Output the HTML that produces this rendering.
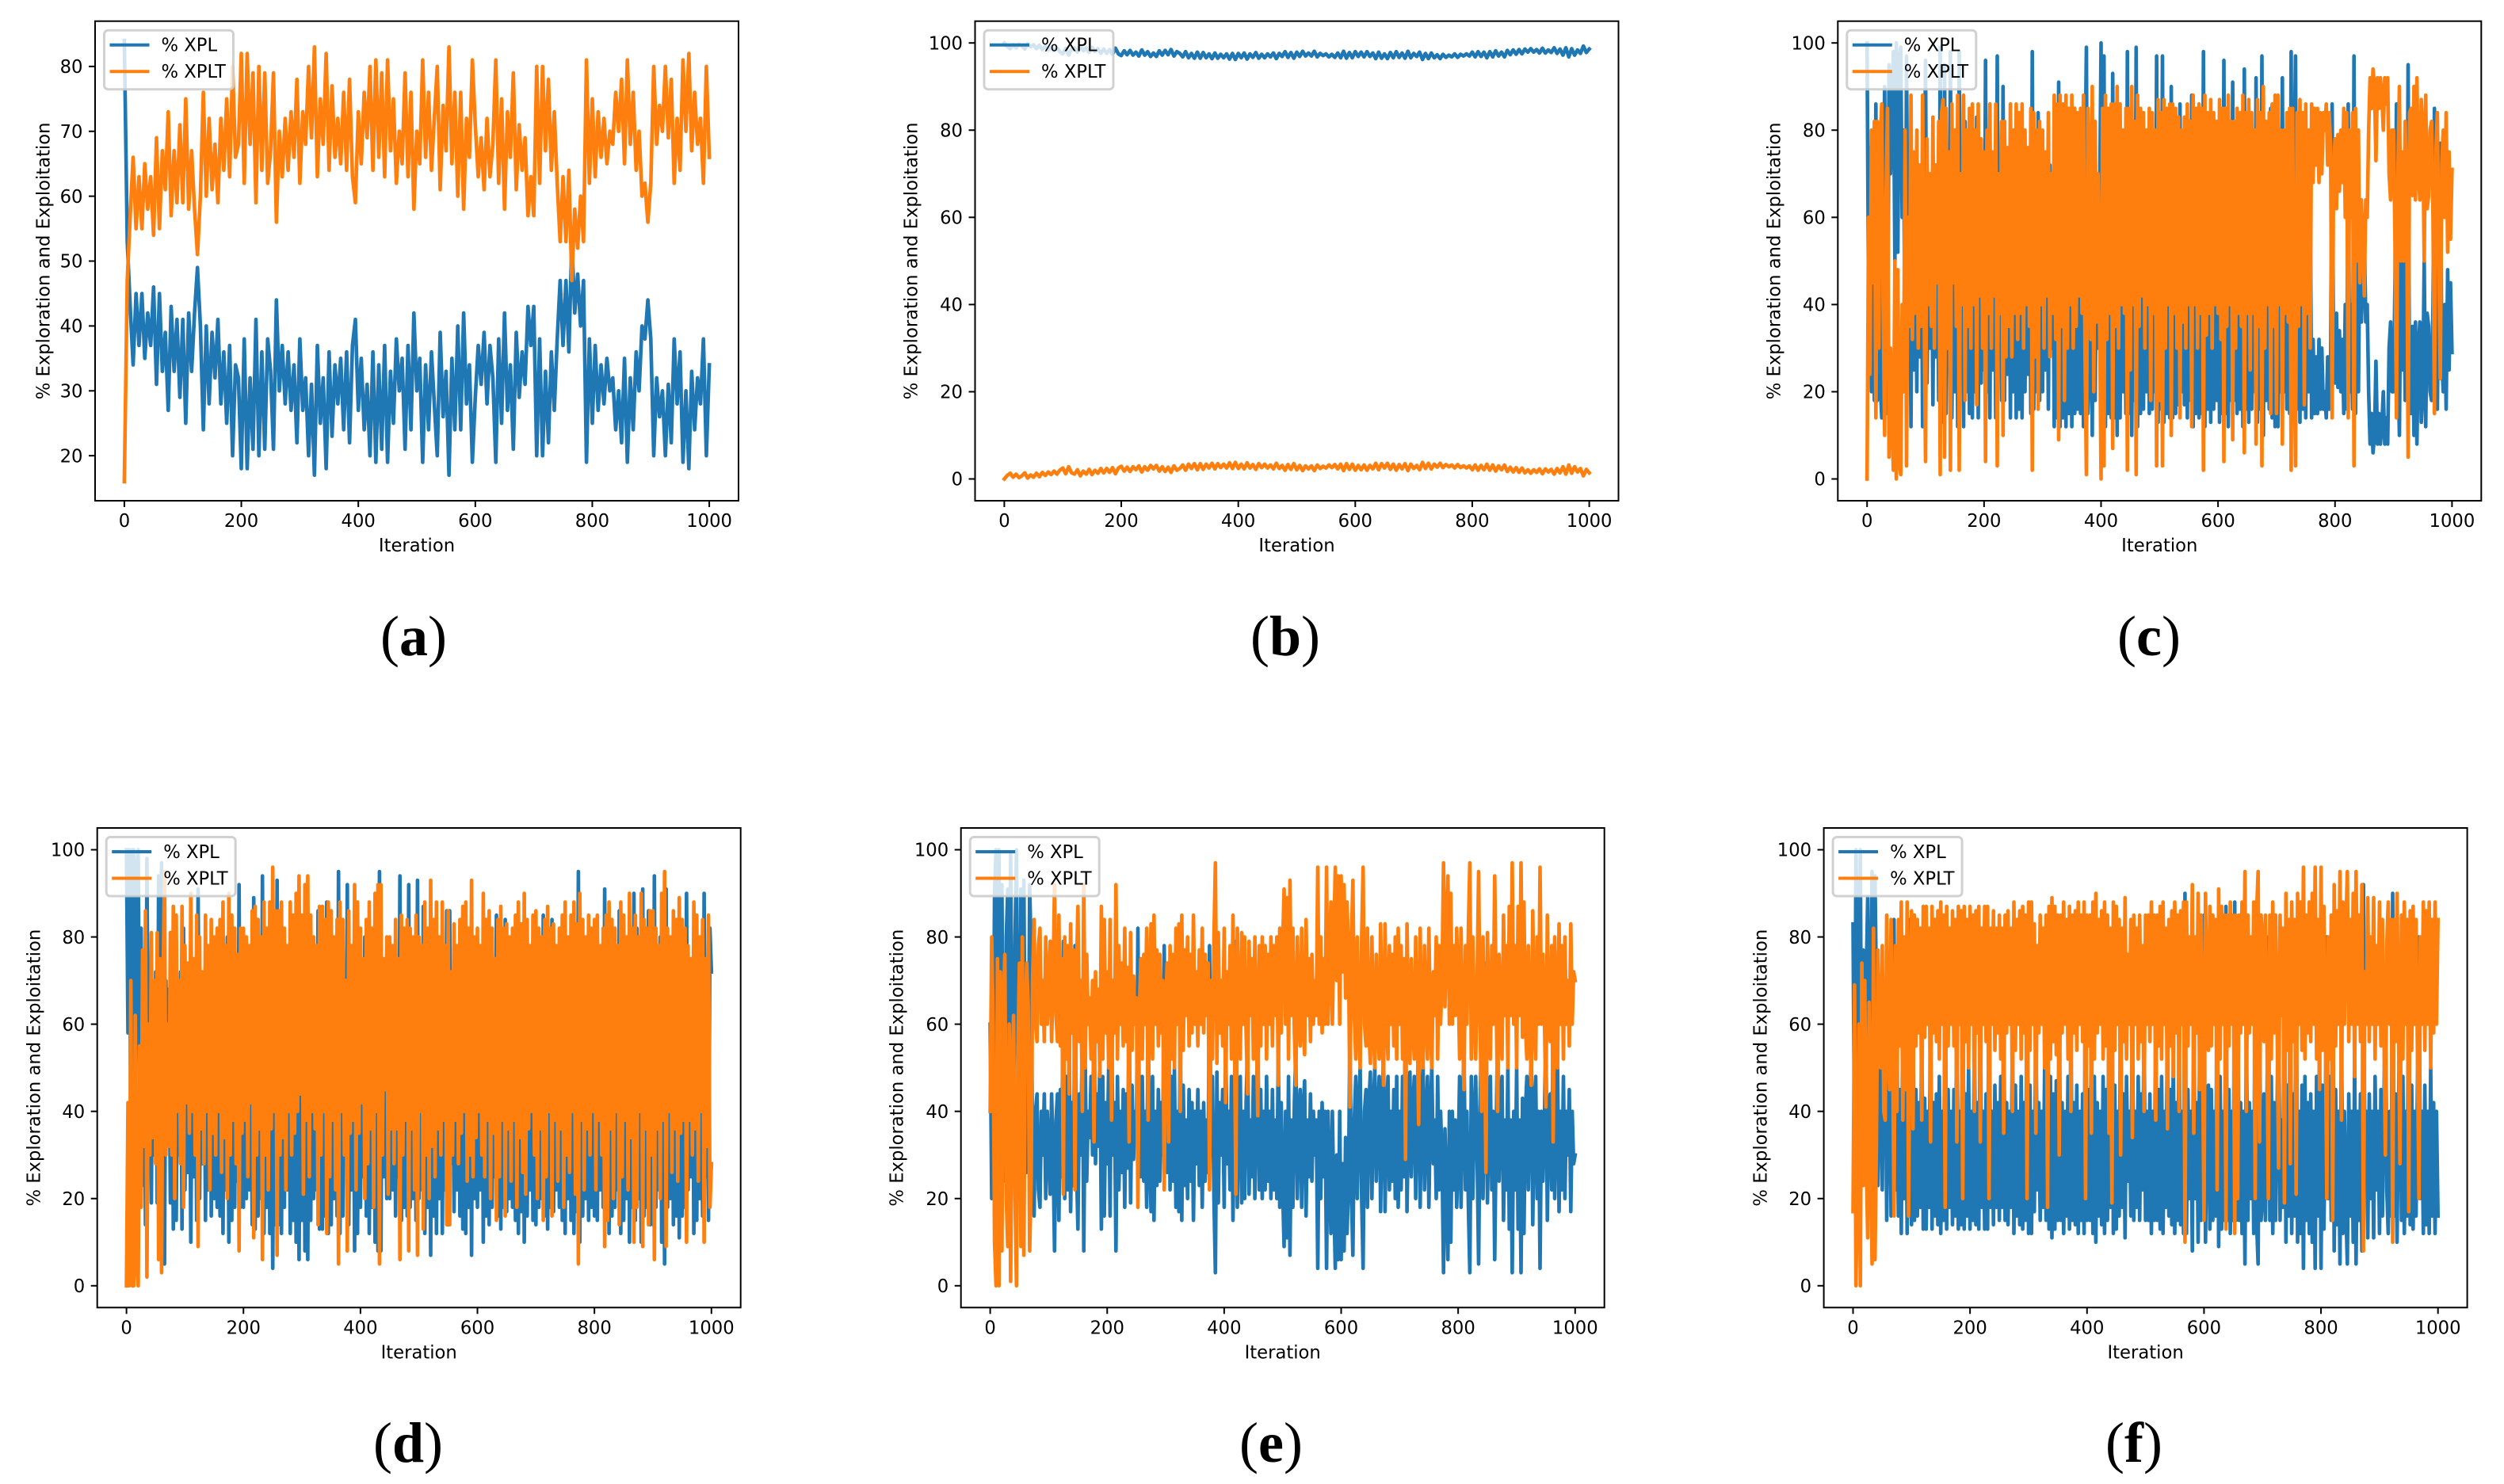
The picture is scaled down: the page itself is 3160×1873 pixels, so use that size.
<!DOCTYPE html>
<html lang="en">
<head>
<meta charset="utf-8">
<title>Exploration and Exploitation Panels</title>
<style>
html,body{margin:0;padding:0;background:#fff;}
svg{display:block;}
text{font-family:"DejaVu Sans","Liberation Sans",sans-serif;fill:#000;}
.caption{font-family:"Liberation Serif",serif;}
</style>
</head>
<body>
<svg id="figure" xmlns="http://www.w3.org/2000/svg" width="3160" height="1873" viewBox="0 0 3160 1873"></svg>
<script>
const xTickValues=[0,200,400,600,800,1000];
const yTickValuesA=[20,30,40,50,60,70,80];
const yTickValuesFull=[0,20,40,60,80,100];
const seriesLabels=["% XPL","% XPLT"];

const panelAXpl=[84,53,43,34,45,37,45,35,42,37,46,31,45,33,39,27,43,33,41,29,
41,25,42,33,42,49,40,24,40,28,39,32,41,28,36,25,37,20,34,32,
18,38,18,32,21,41,20,36,21,38,33,21,44,30,37,28,36,27,34,22,
38,27,32,20,31,17,37,25,32,18,36,23,34,28,35,24,36,22,37,41,
27,35,24,31,20,36,19,34,21,37,19,33,25,38,30,35,21,37,24,42,
30,35,19,34,24,36,28,20,39,26,33,17,35,24,40,24,42,28,34,19,
29,37,31,39,28,37,32,19,38,25,42,27,34,21,39,29,36,31,43,37,
43,20,38,20,33,22,36,27,38,47,37,47,36,53,42,48,40,47,19,38,
25,37,27,34,28,35,30,32,24,30,22,35,19,32,24,36,30,40,38,44,
38,20,32,26,30,20,31,22,38,28,36,19,30,18,33,24,32,28,38,20,34];
const panelAXplt=[16,47,57,66,55,63,55,65,58,63,54,69,55,67,61,73,57,67,59,71,
59,75,58,67,58,51,60,76,60,72,61,68,59,72,64,75,63,80,66,68,
82,62,82,68,79,59,80,64,79,62,67,79,56,70,63,72,64,73,66,78,
62,73,68,80,69,83,63,75,68,82,64,77,66,72,65,76,64,78,63,59,
73,65,76,69,80,64,81,66,79,63,81,67,75,62,70,65,79,63,76,58,
70,65,81,66,76,64,72,80,61,74,67,83,65,76,60,76,58,72,66,81,
71,63,69,61,72,63,68,81,62,75,58,73,66,79,61,71,64,69,57,63,
57,80,62,80,67,78,64,73,62,53,63,53,64,47,58,52,60,53,81,62,
75,63,73,66,72,65,70,68,76,70,78,65,81,68,76,64,70,60,62,56,
62,80,68,74,70,80,69,78,62,72,64,81,70,82,67,76,68,72,62,80,66];

const panelBXpl=[100,99.2,98.7,99.6,98.9,99.7,99.3,98.6,99.8,99.1,99.6,98.7,99.5,98.5,99.2,98.4,99.0,98.2,98.9,98.0,
97.5,98.8,97.2,98.6,98.9,97.9,99.3,98.2,98.9,97.8,99.0,98.0,98.7,97.6,98.6,97.6,98.5,97.4,98.8,97.5,
97.1,98.2,97.3,98.3,97.2,97.9,97.0,98.4,97.2,98.0,96.9,97.7,96.9,98.2,97.2,98.3,97.3,98.5,97.0,98.0,
97.6,96.8,98.0,96.6,97.6,96.5,97.9,96.5,97.8,96.6,97.5,96.4,97.7,96.5,97.4,96.6,97.5,96.3,97.6,96.2,
97.6,96.6,97.7,96.3,97.5,96.7,97.8,96.5,97.4,96.6,97.5,96.8,97.7,96.4,97.6,96.9,98.0,96.7,97.8,96.5,
97.9,96.9,98.1,97.0,97.7,97.0,98.1,96.8,97.6,97.1,97.5,96.8,97.4,96.7,97.7,96.6,98.1,96.5,97.8,96.6,
98.0,96.9,97.9,96.8,98.0,96.9,97.7,96.4,97.9,96.5,97.5,96.4,97.8,96.6,98.0,96.7,97.7,96.5,98.1,96.6,
97.6,96.9,97.9,96.2,97.6,96.4,97.7,96.6,97.3,96.4,97.4,96.7,97.2,96.8,97.5,96.7,97.4,97.0,97.5,97.0,
97.9,96.8,98.0,96.9,97.9,96.6,98.0,96.8,98.2,97.0,97.9,96.8,98.3,97.3,98.4,97.4,98.5,97.5,98.6,97.9,
98.7,97.9,98.5,97.7,98.8,97.7,98.4,97.8,98.9,97.6,98.6,97.2,98.9,96.8,98.7,97.2,98.4,97.6,99.3,97.8,98.6];
const panelBXplt=[0,0.8,1.3,0.4,1.1,0.3,0.7,1.4,0.2,0.9,0.4,1.3,0.5,1.5,0.8,1.6,1.0,1.8,1.1,2.0,
2.5,1.2,2.8,1.4,1.1,2.1,0.7,1.8,1.1,2.2,1.0,2.0,1.3,2.4,1.4,2.4,1.5,2.6,1.2,2.5,
2.9,1.8,2.7,1.7,2.8,2.1,3.0,1.6,2.8,2.0,3.1,2.3,3.1,1.8,2.8,1.7,2.7,1.5,3.0,2.0,
2.4,3.2,2.0,3.4,2.4,3.5,2.1,3.5,2.2,3.4,2.5,3.6,2.3,3.5,2.6,3.4,2.5,3.7,2.4,3.8,
2.4,3.4,2.3,3.7,2.5,3.3,2.2,3.5,2.6,3.4,2.5,3.2,2.3,3.6,2.4,3.1,2.0,3.3,2.2,3.5,
2.1,3.1,1.9,3.0,2.3,3.0,1.9,3.2,2.4,2.9,2.5,3.2,2.6,3.3,2.3,3.4,1.9,3.5,2.2,3.4,
2.0,3.1,2.1,3.2,2.0,3.1,2.3,3.6,2.1,3.5,2.5,3.6,2.2,3.4,2.0,3.3,2.3,3.5,1.9,3.4,
2.4,3.1,2.1,3.8,2.4,3.6,2.3,3.4,2.7,3.6,2.6,3.3,2.8,3.2,2.5,3.3,2.6,3.0,2.5,3.0,
2.1,3.2,2.0,3.1,2.1,3.4,2.0,3.2,1.8,3.0,2.1,3.2,1.7,2.7,1.6,2.6,1.5,2.5,1.4,2.1,
1.3,2.1,1.5,2.3,1.2,2.3,1.6,2.2,1.1,2.4,1.4,2.8,1.1,3.2,1.3,2.8,1.6,2.4,0.7,2.2,1.4];

const panelCXpl=[100,40,76,20,55,18,86,18,70,22,14,60,90,35,15,95,70,86,98,50,100,52,96,99,60,80,20,97,40,65,12,68,25,62,20,70,28,65,12,60,
96,22,60,30,65,17,70,28,55,18,99,16,13,95,15,70,25,98,14,55,20,65,12,98,30,60,12,82,20,65,15,70,14,60,20,83,14,58,22,70,
25,96,20,62,14,70,25,58,14,97,30,62,18,90,18,72,24,65,14,72,20,62,14,68,16,62,14,70,20,60,24,65,15,98,16,72,20,84,18,60,
20,70,25,58,16,72,30,62,12,68,14,91,12,65,14,82,12,70,15,60,12,70,15,65,16,58,15,62,12,70,99,15,25,68,10,80,18,64,30,60,
100,15,97,12,68,15,62,14,93,14,65,10,70,14,60,20,62,15,98,15,75,10,60,18,99,12,65,15,58,16,70,20,60,15,82,16,62,20,97,13,
82,16,97,13,70,15,60,14,90,14,62,15,70,17,86,20,64,17,70,14,60,18,88,12,60,15,70,14,62,15,98,12,67,16,62,13,70,16,60,18,
62,13,68,15,96,15,65,12,60,18,91,18,70,15,62,16,65,12,94,16,62,13,75,16,62,20,92,13,65,16,97,10,70,18,60,16,85,14,65,12,
85,12,60,20,92,20,62,16,64,15,98,15,70,97,16,65,13,60,16,83,14,62,20,70,14,32,15,28,15,32,16,30,16,20,14,28,16,24,86,30,
22,38,21,34,20,32,15,40,16,86,20,40,16,97,15,50,20,55,36,45,58,36,40,20,8,15,6,10,27,8,15,8,12,20,8,14,8,30,36,20,
20,45,86,30,10,50,25,50,18,35,95,16,15,35,10,36,8,30,36,13,20,50,12,38,35,20,18,40,85,25,16,50,77,28,20,40,16,48,25,45,29];
const panelCXplt=[0,60,24,80,45,82,14,82,30,78,86,40,10,65,85,5,30,14,2,50,0,48,4,1,40,20,80,3,60,35,88,32,75,38,80,30,72,35,88,40,
4,78,40,70,35,83,30,72,45,82,1,84,87,5,85,30,75,2,86,45,80,35,88,2,70,40,88,18,80,35,85,30,86,40,80,17,86,42,78,30,
75,4,80,38,86,30,75,42,86,3,70,38,82,10,82,28,76,35,86,28,80,38,86,32,84,38,86,30,80,40,76,35,85,2,84,28,80,16,82,40,
80,30,75,42,84,28,70,38,88,32,86,9,88,35,86,18,88,30,85,40,88,30,85,35,84,42,85,38,88,30,1,85,75,32,90,20,82,36,70,40,
0,85,3,88,32,85,38,86,7,86,35,90,30,86,40,80,38,85,2,85,25,90,40,82,1,88,35,85,42,84,30,80,40,85,18,84,38,80,3,87,
18,84,3,87,30,85,40,86,10,86,38,85,30,83,14,80,36,83,30,86,40,82,12,88,40,85,30,86,38,85,2,88,33,84,38,87,30,84,40,82,
38,87,32,85,4,85,35,88,40,82,9,82,30,85,38,84,35,88,6,84,38,87,25,84,38,80,8,87,35,84,3,90,30,82,40,84,15,86,35,88,
15,88,40,80,8,80,38,84,36,85,2,85,30,3,84,35,87,40,84,17,86,38,80,30,86,68,85,72,85,68,84,70,84,80,86,72,84,76,14,70,
78,62,79,66,80,68,85,60,84,14,80,60,84,3,85,50,80,45,64,55,42,64,60,80,92,85,94,90,73,92,85,92,88,80,92,86,92,70,64,80,
80,55,14,70,90,50,75,50,82,65,5,84,85,65,90,64,92,70,64,87,80,50,88,62,65,80,82,60,15,75,84,50,23,72,80,60,84,52,75,55,71];

const panelDXpl=[100,58,100,30,100,100,38,95,100,45,82,23,68,14,98,40,70,19,66,30,72,19,94,25,97,32,5,70,40,68,19,70,13,80,15,60,30,72,13,82,
22,58,26,65,10,60,25,70,15,91,20,64,28,72,15,60,22,78,16,65,20,70,18,60,16,74,12,66,22,80,10,70,15,62,18,72,24,92,18,65,
18,62,20,75,22,58,14,89,13,70,16,64,20,94,12,70,18,78,12,64,4,60,14,93,14,70,12,66,18,78,22,60,12,70,15,65,10,60,6,56,
15,79,8,62,6,75,15,60,20,64,22,86,13,70,13,60,16,88,12,75,14,62,20,78,16,95,12,60,16,70,30,92,14,65,22,62,8,78,12,65,
18,58,25,80,16,72,12,64,18,82,10,60,8,95,8,70,25,55,20,79,20,64,22,72,16,64,25,94,15,70,18,62,16,92,18,64,20,78,15,93,
20,60,22,87,12,70,18,80,7,68,16,75,12,64,20,70,12,62,22,86,14,86,28,70,17,62,22,72,16,65,13,60,12,76,18,70,7,75,20,66,
18,60,22,70,10,75,16,62,14,80,18,65,25,85,16,75,13,62,18,84,17,64,20,76,18,62,15,82,12,66,17,74,10,79,16,64,22,60,15,70,
14,80,18,64,20,85,16,75,13,60,18,84,17,62,22,76,18,64,15,82,12,70,20,74,15,60,12,79,17,95,10,62,16,78,20,64,15,70,18,60,
16,78,15,62,22,70,18,91,15,85,12,64,16,80,18,60,22,86,12,75,15,62,20,78,10,66,18,90,15,82,20,60,10,91,16,64,18,86,14,70,
14,94,18,64,22,80,10,62,5,91,18,60,20,74,14,64,16,76,11,65,16,62,18,90,22,62,25,70,12,64,15,76,20,60,16,90,25,68,15,82,72];
const panelDXplt=[0,42,0,70,0,0,62,5,0,55,18,77,32,86,2,60,30,81,34,70,28,81,6,75,3,68,95,30,60,32,81,30,87,20,85,40,70,28,87,18,
78,42,74,35,90,40,75,30,85,9,80,36,72,28,85,40,78,22,84,35,80,30,82,40,84,26,88,34,78,20,90,30,85,38,82,28,76,8,82,35,
82,38,80,25,78,42,86,11,87,30,84,36,80,6,88,30,82,22,88,36,96,40,86,7,86,30,88,34,82,22,78,40,88,30,85,35,90,40,94,44,
85,21,92,38,94,25,85,40,80,36,78,14,87,30,87,40,84,12,88,25,86,38,80,22,84,5,88,40,84,30,70,8,86,35,78,38,92,22,88,35,
82,42,75,20,84,28,88,36,82,18,90,40,92,5,92,30,75,45,80,21,80,36,78,28,84,36,75,6,85,30,82,38,84,8,82,36,80,22,85,7,
80,40,78,13,88,30,82,20,93,32,84,25,88,36,80,30,88,38,78,14,86,14,72,30,83,38,78,28,84,35,87,40,88,24,82,30,93,25,80,34,
82,40,78,30,90,25,84,38,86,20,82,35,75,15,84,25,87,38,82,16,83,36,80,24,82,38,85,18,88,34,83,26,90,21,84,36,78,40,85,30,
86,20,82,36,80,15,84,25,87,40,82,16,83,38,78,24,82,36,85,18,88,30,80,26,85,40,88,21,83,5,90,38,84,22,80,36,85,30,82,40,
84,22,85,38,78,30,82,9,85,15,88,36,84,20,82,40,78,14,88,25,85,38,80,22,90,34,82,10,85,18,80,40,90,9,84,36,82,14,86,30,
86,6,82,36,78,20,90,38,95,9,82,40,80,26,86,36,84,24,89,35,84,38,82,10,78,38,75,30,88,36,85,24,80,40,84,10,75,32,85,18,28];

const panelEXpl=[60,20,40,90,100,25,100,28,92,36,24,80,91,40,99,52,38,80,100,45,26,91,20,93,40,26,36,92,76,30,16,40,44,22,18,40,30,44,20,40,
32,21,44,30,8,38,44,15,45,25,79,20,48,22,56,17,42,23,78,28,13,44,30,60,8,50,24,40,34,48,30,67,28,44,32,52,13,48,16,42,
28,50,16,62,30,42,8,48,22,40,26,45,18,44,27,67,19,46,29,40,34,82,38,25,48,24,40,18,62,30,17,48,15,40,23,45,24,42,30,78,
36,26,67,22,48,24,50,18,40,17,60,15,46,23,38,20,45,24,42,15,40,28,45,23,40,18,42,24,38,26,78,30,48,20,3,49,19,42,30,45,
18,58,28,40,22,48,15,38,79,18,40,48,19,40,20,42,56,21,38,25,48,20,40,61,22,45,20,40,22,48,24,40,20,45,22,38,20,54,18,42,
22,9,40,11,48,7,38,18,42,54,20,38,45,18,40,47,16,38,25,44,24,40,30,38,4,40,20,42,25,40,4,40,26,12,40,20,4,30,6,40,
6,28,8,34,12,22,59,22,7,38,48,20,40,50,20,4,40,45,18,42,49,20,40,50,24,40,48,17,40,54,17,38,48,22,40,24,45,20,48,18,
40,22,48,25,71,17,38,49,25,40,48,20,38,63,18,40,50,22,38,48,18,40,50,28,38,20,48,22,40,28,3,36,20,6,40,10,40,22,38,18,
30,48,18,40,55,22,40,18,3,48,20,38,48,30,5,40,60,20,40,74,19,38,48,22,40,6,34,60,24,40,48,15,38,22,50,13,38,3,40,22,
50,13,38,3,43,12,40,48,22,40,54,14,40,48,20,40,4,40,24,38,59,15,40,44,22,67,20,38,50,17,40,22,48,20,40,30,45,17,40,28,30];
const panelEXplt=[40,80,60,10,0,75,0,72,8,64,76,20,9,60,1,48,62,20,0,55,74,9,80,7,60,74,64,8,24,70,84,60,56,78,82,60,70,56,80,60,
68,79,56,70,92,62,56,85,55,75,21,80,52,78,44,83,58,77,22,72,87,56,70,40,92,50,76,60,66,52,70,33,72,56,68,48,87,52,84,58,
72,50,84,38,70,58,92,52,78,60,74,55,82,56,73,33,81,54,71,60,66,18,62,75,52,76,60,82,38,70,83,52,85,60,77,55,76,58,70,22,
64,74,33,78,52,76,50,82,60,83,40,85,54,77,62,80,55,76,58,85,60,72,55,77,60,82,58,76,62,74,22,70,52,80,97,51,81,58,70,55,
82,42,72,60,78,52,85,62,21,82,60,52,81,60,80,58,44,79,62,75,52,80,60,39,78,55,80,60,78,52,76,60,80,55,78,62,80,46,82,58,
78,91,60,89,52,93,62,82,58,46,80,62,55,82,60,53,84,62,75,56,76,60,70,62,96,60,80,58,75,60,96,60,74,88,60,80,96,70,94,60,
94,72,92,66,88,78,41,78,93,62,52,80,60,50,80,96,60,55,82,58,51,80,60,50,76,60,52,83,60,46,83,62,52,78,60,76,55,80,52,82,
60,78,52,75,29,83,62,51,75,60,52,80,62,37,82,60,50,78,62,52,82,60,50,72,62,80,52,78,60,72,97,64,80,94,60,90,60,78,62,82,
70,52,82,60,45,78,60,82,97,52,80,62,52,70,95,60,40,80,60,26,81,62,52,78,60,94,66,40,76,60,52,85,62,78,50,87,62,97,60,78,
50,87,62,97,57,88,60,52,78,60,46,86,60,52,80,60,96,60,76,62,41,85,60,56,78,33,80,62,50,83,60,78,52,80,60,70,55,83,60,72,70];

const panelFXpl=[83,31,100,76,40,100,26,77,30,70,89,35,65,95,18,94,67,23,45,50,22,60,62,15,45,55,16,40,84,22,60,16,45,12,62,20,55,12,84,30,
14,64,15,45,16,42,18,62,13,43,13,40,18,67,13,42,16,44,14,48,12,40,15,82,13,45,18,40,14,45,16,67,13,40,14,80,13,44,16,50,
13,40,15,60,14,42,13,67,18,40,13,44,13,80,18,40,14,46,18,42,15,48,18,65,15,42,14,40,18,60,12,46,16,40,14,48,13,42,15,80,
12,46,12,40,17,65,22,42,15,40,18,50,15,82,13,48,11,44,13,47,15,70,15,42,12,40,16,48,13,60,15,42,14,46,12,40,15,44,12,80,
15,45,15,65,12,48,10,42,16,40,14,48,12,45,15,65,18,81,12,46,13,40,16,70,18,44,11,48,24,40,16,66,15,40,18,48,15,44,22,60,
15,40,15,44,12,40,15,62,15,45,13,48,12,40,18,64,16,45,14,52,12,42,15,60,14,40,12,90,12,45,20,40,8,65,20,42,10,55,15,45,
85,10,40,46,13,45,15,40,16,78,9,48,13,40,15,87,15,45,12,40,15,88,15,80,15,42,12,40,5,60,15,42,20,40,12,80,14,5,67,15,
20,44,15,40,80,15,48,12,42,15,40,73,15,38,18,81,10,46,16,72,12,44,16,79,10,40,12,46,4,48,15,42,12,44,10,40,4,48,16,55,
4,46,13,40,80,20,48,15,85,8,45,14,40,5,62,12,40,18,5,44,16,40,10,52,5,40,15,44,8,92,28,40,11,44,20,40,11,48,22,40,
12,45,16,40,70,22,12,40,16,90,16,44,10,40,72,15,48,12,40,16,83,14,46,13,40,16,48,80,20,40,12,46,14,40,12,50,16,42,12,40,16];
const panelFXplt=[17,69,0,24,60,0,74,23,70,30,11,65,35,5,82,6,33,77,55,50,78,40,38,85,55,45,84,60,16,78,40,84,55,88,38,80,45,88,16,70,
86,36,85,55,84,58,82,38,87,57,87,60,82,33,87,58,84,56,86,52,88,60,85,18,87,55,82,60,86,55,84,33,87,60,86,20,87,56,84,50,
87,60,85,40,86,58,87,33,82,60,87,56,87,20,82,60,86,54,82,58,85,52,82,35,85,58,86,60,82,40,88,54,84,60,86,52,87,58,85,20,
88,54,88,60,83,35,78,58,85,60,82,50,85,18,87,52,89,56,87,53,85,30,85,58,88,60,84,52,87,40,85,58,86,54,88,60,85,56,88,20,
85,55,85,35,88,52,90,58,84,60,86,52,88,55,85,35,82,19,88,54,87,60,84,30,82,56,89,52,76,60,84,34,85,60,82,52,85,56,78,40,
85,60,85,56,88,60,85,38,85,55,87,52,88,60,82,36,84,55,86,48,88,58,85,40,86,60,88,10,88,55,80,60,92,35,80,58,90,45,85,55,
15,90,60,54,87,55,85,60,84,22,91,52,87,60,85,13,85,55,88,60,85,12,85,20,85,58,88,60,95,40,85,58,80,60,88,20,86,95,33,85,
80,56,85,60,20,85,52,88,58,85,60,27,85,62,82,19,90,54,84,28,88,56,84,21,90,60,88,54,96,52,85,58,88,56,90,60,96,52,84,45,
96,54,87,60,20,80,52,85,15,92,55,86,60,95,38,88,60,82,95,56,84,60,90,48,95,60,85,56,92,8,72,60,89,56,80,60,89,52,78,60,
88,55,84,60,30,78,88,60,84,10,84,56,90,60,28,85,52,88,60,84,17,86,54,87,60,84,52,20,80,60,88,54,86,60,88,50,84,58,88,60,84];

const svg=document.getElementById('figure');
const NS='http://www.w3.org/2000/svg';
const AXES_W=812, AXES_H=605.3, FONT=22.7, XDOMAIN=[-50,1050], MAX_ITER=1000;
const BLUE='#1f77b4', ORANGE='#ff7f0e';

function mk(parent,tag,attrs,txt){
  const e=document.createElementNS(NS,tag);
  for(const k in attrs){e.setAttribute(k,attrs[k]);}
  if(txt!==undefined){e.textContent=txt;}
  parent.appendChild(e);
  return e;
}

function drawPanel(id,left,top,ylabelX,capX,capBase,yDomain,yTicks,xpl,xplt){
  const xScale=v=>left+(v-XDOMAIN[0])/(XDOMAIN[1]-XDOMAIN[0])*AXES_W;
  const yScale=v=>top+AXES_H-(v-yDomain[0])/(yDomain[1]-yDomain[0])*AXES_H;
  const g=mk(svg,'g',{});
  
  

  const bg=mk(g,'rect',{x:left,y:top,width:AXES_W,height:AXES_H,fill:'#fff'});
  
  

  const toPoints=arr=>arr.map((v,i)=>xScale(i*MAX_ITER/(arr.length-1)).toFixed(1)+','+yScale(v).toFixed(1)).join(' ');
  const lineCommon={fill:'none','stroke-width':4.6,'stroke-linejoin':'round','stroke-linecap':'square'};

  const l1=mk(g,'polyline',Object.assign({points:toPoints(xpl),stroke:BLUE},lineCommon));
  
  

  const l2=mk(g,'polyline',Object.assign({points:toPoints(xplt),stroke:ORANGE},lineCommon));
  
  

  const frame=mk(g,'rect',{x:left,y:top,width:AXES_W,height:AXES_H,fill:'none',stroke:'#000','stroke-width':2});
  
  

  xTickValues.forEach(v=>{
    const x=xScale(v);
    const t=mk(g,'line',{x1:x,x2:x,y1:top+AXES_H,y2:top+AXES_H+8,stroke:'#000','stroke-width':2});
    
    
    const lab=mk(g,'text',{x:x,y:top+AXES_H+33,'text-anchor':'middle','font-size':FONT},String(v));
    
    
  });

  yTicks.forEach(v=>{
    const y=yScale(v);
    const t=mk(g,'line',{x1:left-8,x2:left,y1:y,y2:y,stroke:'#000','stroke-width':2});
    
    
    const lab=mk(g,'text',{x:left-15.5,y:y+8.2,'text-anchor':'end','font-size':FONT},String(v));
    
    
  });

  const xt=mk(g,'text',{x:left+AXES_W/2,y:top+AXES_H+64,'text-anchor':'middle','font-size':FONT},'Iteration');
  
  

  const cy=top+AXES_H/2;
  const yt=mk(g,'text',{x:ylabelX,y:cy,'text-anchor':'middle','font-size':FONT,transform:'rotate(-90 '+ylabelX+' '+cy+')'},'% Exploration and Exploitation');
  
  

  const lg=mk(g,'g',{});
  
  
  const box=mk(lg,'rect',{x:left+11.5,y:top+11.5,width:163,height:74.5,rx:5,ry:5,fill:'#fff','fill-opacity':0.8,stroke:'#cccccc','stroke-opacity':0.9,'stroke-width':3});
  
  

  const s1=mk(lg,'line',{x1:left+18.5,x2:left+68.5,y1:top+30,y2:top+30,stroke:BLUE,'stroke-width':4});
  
  
  const lt1=mk(lg,'text',{x:left+83.5,y:top+38,'font-size':FONT},seriesLabels[0]);
  
  

  const s2=mk(lg,'line',{x1:left+18.5,x2:left+68.5,y1:top+63.5,y2:top+63.5,stroke:ORANGE,'stroke-width':4});
  
  
  const lt2=mk(lg,'text',{x:left+83.5,y:top+71.5,'font-size':FONT},seriesLabels[1]);
  
  

  const cap=mk(g,'text',{x:capX,y:capBase,'text-anchor':'middle','font-size':72,class:'caption'});
  
  
  mk(cap,'tspan',{},'(');
  mk(cap,'tspan',{'font-weight':'bold'},id);
  mk(cap,'tspan',{},')');
}

const domainA=[13.06,86.98];
const domainFull=[-5,105];
drawPanel('a',120,26.7,62.5,522,827,domainA,yTickValuesA,panelAXpl,panelAXplt);
drawPanel('b',1230.5,26.7,1157.5,1622,827,domainFull,yTickValuesFull,panelBXpl,panelBXplt);
drawPanel('c',2319.3,26.7,2246.5,2712,827,domainFull,yTickValuesFull,panelCXpl,panelCXplt);
drawPanel('d',122.7,1045,50.5,515,1845,domainFull,yTickValuesFull,panelDXpl,panelDXplt);
drawPanel('e',1212.7,1045,1139.5,1604,1845,domainFull,yTickValuesFull,panelEXpl,panelEXplt);
drawPanel('f',2301.6,1045,2229.5,2693,1845,domainFull,yTickValuesFull,panelFXpl,panelFXplt);
</script>
</body>
</html>
